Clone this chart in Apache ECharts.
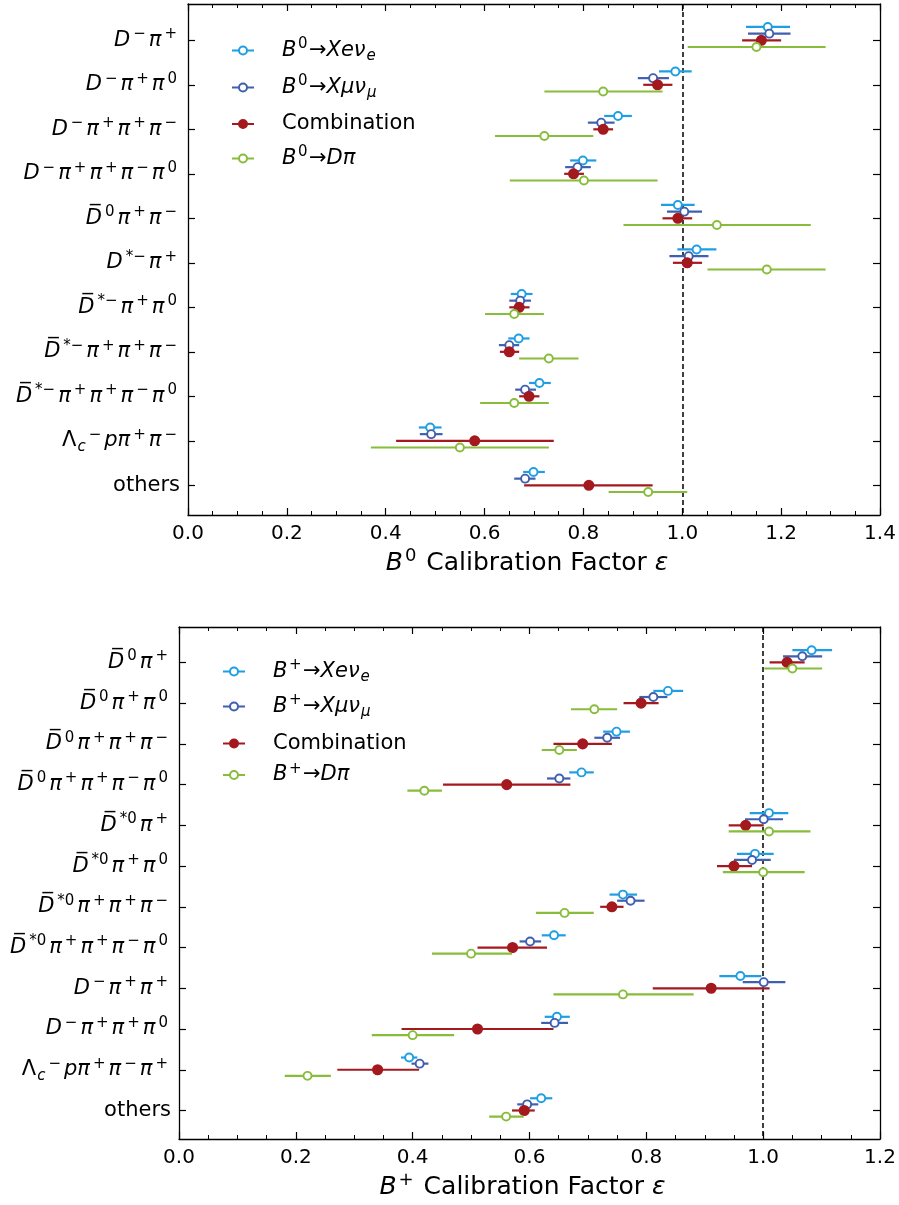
<!DOCTYPE html>
<html>
<head>
<meta charset="utf-8">
<script src="https://cdn.jsdelivr.net/npm/echarts@6/dist/echarts.min.js"></script>
<style>html,body{margin:0;padding:0;background:#fff;}#c{width:899px;height:1205px;}</style>
</head>
<body>
<div id="c"></div>
<script>
// ---------- data: top panel (B0) ----------
const b0Cats = ['D^−π^+', 'D^−π^+π^0', 'D^−π^+π^+π^−', 'D^−π^+π^+π^−π^0', 'D\u0305^0π^+π^−', 'D^{*−}π^+',
  'D\u0305^{*−}π^+π^0', 'D\u0305^{*−}π^+π^+π^−', 'D\u0305^{*−}π^+π^+π^−π^0', 'Λ_c^−pπ^+π^−', 'others'];
const b0E_val  = [1.173, 0.986, 0.870, 0.799, 0.991, 1.029, 0.675, 0.669, 0.711, 0.490, 0.699];
const b0E_lo   = [1.129, 0.953, 0.842, 0.773, 0.957, 0.990, 0.653, 0.648, 0.690, 0.467, 0.678];
const b0E_hi   = [1.218, 1.019, 0.898, 0.826, 1.025, 1.069, 0.697, 0.691, 0.734, 0.513, 0.722];
const b0Mu_val = [1.176, 0.941, 0.836, 0.788, 1.004, 1.013, 0.672, 0.650, 0.682, 0.492, 0.682];
const b0Mu_lo  = [1.133, 0.910, 0.809, 0.763, 0.969, 0.974, 0.650, 0.629, 0.662, 0.469, 0.660];
const b0Mu_hi  = [1.219, 0.973, 0.863, 0.815, 1.040, 1.053, 0.694, 0.670, 0.704, 0.515, 0.703];
const b0C_val  = [1.160, 0.950, 0.840, 0.780, 0.991, 1.010, 0.670, 0.650, 0.690, 0.580, 0.811];
const b0C_lo   = [1.121, 0.921, 0.820, 0.761, 0.960, 0.981, 0.650, 0.631, 0.670, 0.421, 0.680];
const b0C_hi   = [1.200, 0.980, 0.860, 0.801, 1.020, 1.040, 0.691, 0.670, 0.711, 0.740, 0.940];
const b0D_val  = [1.150, 0.840, 0.721, 0.801, 1.070, 1.171, 0.660, 0.730, 0.660, 0.550, 0.931];
const b0D_lo   = [1.011, 0.721, 0.621, 0.651, 0.881, 1.051, 0.601, 0.670, 0.591, 0.370, 0.851];
const b0D_hi   = [1.290, 0.960, 0.820, 0.950, 1.260, 1.290, 0.720, 0.790, 0.730, 0.730, 1.010];

// ---------- data: bottom panel (B+) ----------
const bpCats = ['D\u0305^0π^+', 'D\u0305^0π^+π^0', 'D\u0305^0π^+π^+π^−', 'D\u0305^0π^+π^+π^−π^0', 'D\u0305^{*0}π^+',
  'D\u0305^{*0}π^+π^0', 'D\u0305^{*0}π^+π^+π^−', 'D\u0305^{*0}π^+π^+π^−π^0', 'D^−π^+π^+', 'D^−π^+π^+π^0',
  'Λ_c^−pπ^+π^−π^+', 'others'];
const bpE_val  = [1.083, 0.837, 0.749, 0.689, 1.010, 0.986, 0.760, 0.642, 0.961, 0.647, 0.394, 0.620];
const bpE_lo   = [1.050, 0.812, 0.726, 0.668, 0.977, 0.955, 0.737, 0.621, 0.925, 0.626, 0.380, 0.601];
const bpE_hi   = [1.118, 0.863, 0.772, 0.710, 1.043, 1.018, 0.784, 0.662, 0.997, 0.669, 0.408, 0.639];
const bpMu_val = [1.067, 0.812, 0.733, 0.651, 1.001, 0.981, 0.773, 0.601, 1.001, 0.643, 0.412, 0.596];
const bpMu_lo  = [1.034, 0.788, 0.711, 0.630, 0.969, 0.950, 0.750, 0.583, 0.965, 0.620, 0.398, 0.579];
const bpMu_hi  = [1.101, 0.836, 0.755, 0.670, 1.034, 1.013, 0.797, 0.620, 1.038, 0.666, 0.427, 0.615];
const bpC_val  = [1.041, 0.791, 0.691, 0.561, 0.970, 0.950, 0.741, 0.571, 0.911, 0.511, 0.340, 0.591];
const bpC_lo   = [1.011, 0.761, 0.641, 0.452, 0.941, 0.921, 0.721, 0.511, 0.811, 0.381, 0.271, 0.570];
const bpC_hi   = [1.071, 0.821, 0.741, 0.670, 1.001, 0.981, 0.761, 0.630, 1.011, 0.641, 0.411, 0.609];
const bpD_val  = [1.050, 0.711, 0.651, 0.420, 1.010, 1.000, 0.660, 0.500, 0.760, 0.400, 0.220, 0.560];
const bpD_lo   = [1.002, 0.671, 0.621, 0.391, 0.941, 0.931, 0.611, 0.433, 0.641, 0.330, 0.181, 0.531];
const bpD_hi   = [1.101, 0.750, 0.681, 0.450, 1.081, 1.071, 0.710, 0.570, 0.881, 0.471, 0.260, 0.590];

const legendTop = ['B^0→Xeν_e', 'B^0→Xμν_μ', 'Combination', 'B^0→Dπ'];
const legendBot = ['B^+→Xeν_e', 'B^+→Xμν_μ', 'Combination', 'B^+→Dπ'];

// ---------- styling ----------
const COLORS = ['#1E9FE3', '#3F5FAF', '#A3191E', '#88BC3B'];
const FILLED = [false, false, true, false];
const OFFS = [-0.3, -0.15, 0, 0.15];
const FONT = 'DejaVu Sans';

function richStyles(size, supPad) {
  const sup = Math.round(size * 0.72);
  const lh = Math.round(size * 1.3);
  const p = supPad === undefined ? 3 : supPad;
  return {
    n: { fontFamily: FONT, fontSize: size, color: '#000', lineHeight: lh },
    i: { fontFamily: FONT, fontSize: size, fontStyle: 'italic', color: '#000', lineHeight: lh },
    sup: { fontFamily: FONT, fontSize: sup, color: '#000', lineHeight: sup, verticalAlign: 'top', padding: [0, p, 0, p] },
    sub: { fontFamily: FONT, fontSize: sup, fontStyle: 'italic', color: '#000', lineHeight: sup, verticalAlign: 'bottom', padding: [0, 0, 0, 1] },
    gap: { width: 23, lineHeight: lh }
  };
}

function toRich(s) {
  if (/^[A-Za-z ]+$/.test(s)) return '{n|' + s + '}';
  let out = '';
  let i = 0;
  while (i < s.length) {
    const c = s[i];
    if (c === '^' || c === '_') {
      let grp;
      if (s[i + 1] === '{') { const j = s.indexOf('}', i); grp = s.slice(i + 2, j); i = j + 1; }
      else { grp = s[i + 1]; i += 2; }
      out += '{' + (c === '^' ? 'sup' : 'sub') + '|' + grp + '}';
    } else {
      let ch = c; i++;
      while (i < s.length && /[\u0300-\u036f]/.test(s[i])) { ch += s[i]; i++; }
      const upright = /[Λ→0-9 ]/.test(ch);
      out += '{' + (upright ? 'n' : 'i') + '|' + ch + '}';
    }
  }
  return out;
}

function mkData(val, lo, hi, off) {
  return val.map((v, k) => [v, lo[k], hi[k], k + off]);
}

function errSeries(name, idx, grid, val, lo, hi, withLine) {
  const color = COLORS[idx];
  const s = {
    name: name,
    type: 'custom',
    xAxisIndex: grid * 2,
    yAxisIndex: grid * 2,
    z: 10 + idx,
    encode: { x: [0, 1, 2], y: 3 },
    data: mkData(val, lo, hi, OFFS[idx]),
    itemStyle: { color: color },
    renderItem: function (params, api) {
      const y = api.value(3);
      const p = api.coord([api.value(0), y]);
      const l = api.coord([api.value(1), y]);
      const h = api.coord([api.value(2), y]);
      return {
        type: 'group',
        children: [
          { type: 'line', shape: { x1: l[0], y1: p[1], x2: h[0], y2: p[1] },
            style: { stroke: color, lineWidth: 2.2 } },
          { type: 'circle', shape: { cx: p[0], cy: p[1], r: FILLED[idx] ? 4.6 : 4 },
            style: { fill: FILLED[idx] ? color : '#fff', stroke: color, lineWidth: 1.9 } }
        ]
      };
    }
  };
  if (withLine) {
    s.markLine = {
      silent: true, symbol: ['none', 'none'], label: { show: false },
      lineStyle: { color: '#000', type: [5, 3], width: 1.5 },
      data: [{ xAxis: 1.0 }]
    };
  }
  return s;
}

const ICON_OPEN = 'path://M0,4H7M15,4H22M7,4A4,4,0,1,0,15,4A4,4,0,1,0,7,4Z';

// one legend box per entry so each row sits exactly where the reference has it
function legendBox(key, idx, label, left, centerY) {
  return {
    data: [{ name: key, icon: ICON_OPEN,
      itemStyle: { color: FILLED[idx] ? COLORS[idx] : '#fff', borderColor: COLORS[idx], borderWidth: 2 } }],
    orient: 'vertical', left: left, top: centerY - 13.5, padding: 0,
    itemWidth: 22, itemHeight: 8, selectedMode: false,
    formatter: () => '{gap|}' + toRich(label),
    textStyle: { rich: richStyles(21, 1.5) }
  };
}

function xAxes(grid, max, nameSup) {
  const axLine = { show: true, onZero: false, lineStyle: { color: '#000', width: 1.3 } };
  return [
    {
      type: 'value', gridIndex: grid, min: 0, max: max, interval: 0.2, position: 'bottom',
      axisLine: axLine,
      axisTick: { show: true, inside: true, length: 7, lineStyle: { color: '#000', width: 1.2 } },
      minorTick: { show: true, splitNumber: 4, length: 4, lineStyle: { color: '#000', width: 1 } },
      splitLine: { show: false }, minorSplitLine: { show: false },
      axisLabel: { color: '#000', fontFamily: FONT, fontSize: 20, margin: 9,
        formatter: v => v.toFixed(1) },
      name: '{i|B}{sup|' + nameSup + '}{n| Calibration Factor }{i|ε}',
      nameLocation: 'middle', nameGap: 32,
      nameTextStyle: { rich: richStyles(25, 2), padding: [0, 14, 0, 0] }
    },
    {
      type: 'value', gridIndex: grid, min: 0, max: max, interval: 0.2, position: 'top',
      axisLine: axLine,
      axisTick: { show: true, inside: true, length: 7, lineStyle: { color: '#000', width: 1.2 } },
      minorTick: { show: true, splitNumber: 4, length: 4, lineStyle: { color: '#000', width: 1 } },
      splitLine: { show: false }, axisLabel: { show: false }
    }
  ];
}

function yAxes(grid, cats, min, max) {
  const ticks = cats.map((c, i) => i);
  const axLine = { show: true, onZero: false, lineStyle: { color: '#000', width: 1.3 } };
  return [
    {
      type: 'value', gridIndex: grid, inverse: true, min: min, max: max, position: 'left',
      axisLine: axLine, splitLine: { show: false },
      axisTick: { show: true, inside: true, length: 7, customValues: ticks, lineStyle: { color: '#000', width: 1.2 } },
      axisLabel: { show: true, customValues: ticks, margin: 8,
        formatter: v => toRich(cats[Math.round(v)]),
        rich: richStyles(21, 3) }
    },
    {
      type: 'value', gridIndex: grid, inverse: true, min: min, max: max, position: 'right',
      axisLine: axLine, splitLine: { show: false },
      axisTick: { show: true, inside: true, length: 7, customValues: ticks, lineStyle: { color: '#000', width: 1.2 } },
      axisLabel: { show: false }
    }
  ];
}

const topKeys = ['t0', 't1', 't2', 't3'];
const botKeys = ['b0', 'b1', 'b2', 'b3'];
const topRows = [50.5, 87.5, 127, 158.5];
const botRows = [671.5, 706.5, 746.5, 775];

const legends = [];
topKeys.forEach((k, i) => legends.push(legendBox(k, i, legendTop[i], 231, topRows[i])));
botKeys.forEach((k, i) => legends.push(legendBox(k, i, legendBot[i], 222, botRows[i])));

const option = {
  animation: false,
  backgroundColor: '#fff',
  grid: [
    { left: 188, right: 19, top: 4, height: 511, outerBoundsMode: 'none' },
    { left: 179, right: 19, top: 627, height: 512, outerBoundsMode: 'none' }
  ],
  legend: legends,
  xAxis: xAxes(0, 1.4, '0').concat(xAxes(1, 1.2, '+')),
  yAxis: yAxes(0, b0Cats, -0.816, 10.667).concat(yAxes(1, bpCats, -0.869, 11.70)),
  series: [
    errSeries('t0', 0, 0, b0E_val, b0E_lo, b0E_hi, true),
    errSeries('t1', 1, 0, b0Mu_val, b0Mu_lo, b0Mu_hi, false),
    errSeries('t2', 2, 0, b0C_val, b0C_lo, b0C_hi, false),
    errSeries('t3', 3, 0, b0D_val, b0D_lo, b0D_hi, false),
    errSeries('b0', 0, 1, bpE_val, bpE_lo, bpE_hi, true),
    errSeries('b1', 1, 1, bpMu_val, bpMu_lo, bpMu_hi, false),
    errSeries('b2', 2, 1, bpC_val, bpC_lo, bpC_hi, false),
    errSeries('b3', 3, 1, bpD_val, bpD_lo, bpD_hi, false)
  ]
};

const chart = echarts.init(document.getElementById('c'), null, { renderer: 'canvas' });
chart.setOption(option);
</script>
</body>
</html>
